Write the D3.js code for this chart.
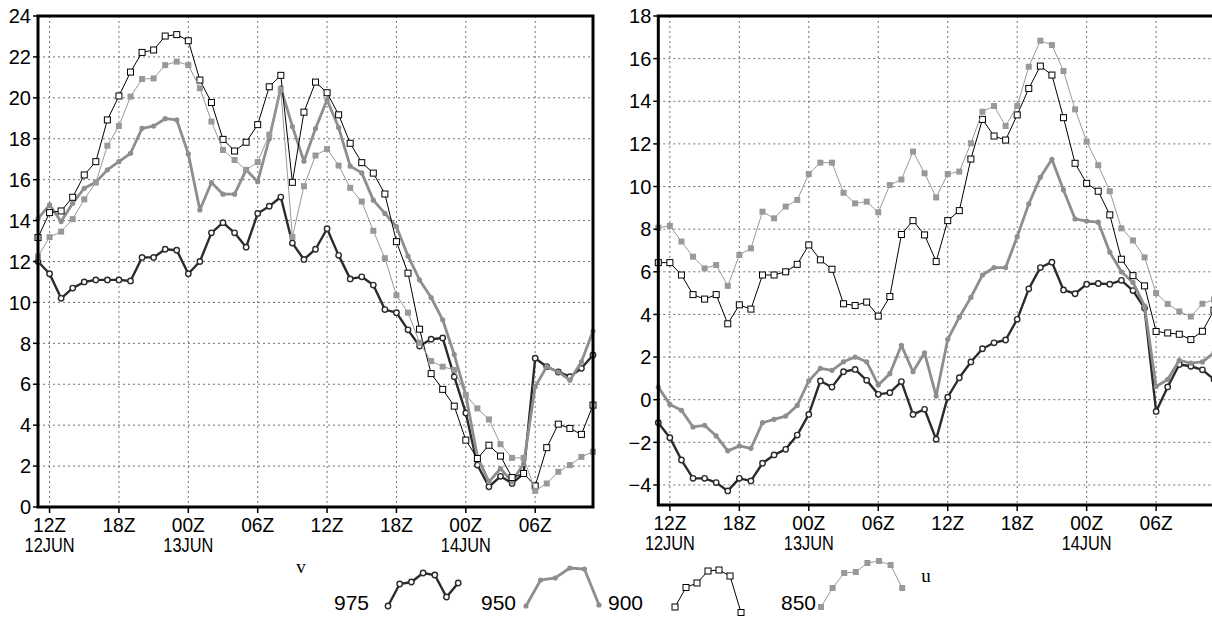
<!DOCTYPE html>
<html lang="en">
<head>
<meta charset="UTF-8">
<title>v and u at 975/950/900/850</title>
<script src="https://d3js.org/d3.v7.min.js"></script>
<style>
  body { margin: 0; background: #fff; }
  svg { display: block; }
  text { font-family: "Liberation Sans", Arial, sans-serif; fill: #000; }
</style>
</head>
<body>
<script>
const width = 1212, height = 618;

// hourly values, 11Z 12JUN .. 11Z 14JUN
const startTime = new Date(Date.UTC(2000, 5, 12, 11));
const levels = ["975", "950", "900", "850"];

const v975 = [12.0, 11.4, 10.2, 10.7, 11.0, 11.1, 11.1, 11.1, 11.05, 12.2, 12.2, 12.6, 12.55, 11.4, 12.0, 13.4, 13.9, 13.4, 12.7, 14.35, 14.7, 15.15, 12.9, 12.1,
              12.6, 13.6, 12.3, 11.15, 11.25, 10.85, 9.65, 9.5, 8.66, 7.87, 8.2, 8.26, 6.37, 4.6, 2.05, 0.99, 1.5, 1.15, 1.64, 7.27, 6.86, 6.6, 6.37, 6.78, 7.43];
const v950 = [14.1, 14.77, 13.95, 14.85, 15.58, 15.87, 16.48, 16.88, 17.29, 18.51, 18.62, 18.98, 18.92, 17.26, 14.52, 15.86, 15.29, 15.29, 16.48, 15.9, 18.0, 20.5, 18.6, 16.9,
              18.5, 19.9, 18.55, 16.66, 16.33, 15.0, 14.35, 13.7, 12.27, 11.1, 10.24, 9.15, 7.45, 5.47, 2.45, 1.23, 1.88, 1.23, 2.13, 5.88, 6.86, 6.6, 6.2, 7.1, 8.6];
const v900 = [13.17, 14.39, 14.47, 15.14, 16.23, 16.88, 18.92, 20.09, 21.26, 22.22, 22.34, 23.02, 23.09, 22.79, 20.87, 19.77, 17.97, 17.4, 17.83, 18.69, 20.54, 21.1, 15.87, 19.3,
              20.77, 20.25, 19.17, 17.78, 16.83, 16.32, 15.3, 12.97, 11.43, 8.69, 6.52, 5.75, 4.93, 3.27, 2.37, 3.02, 2.49, 1.44, 1.64, 1.03, 2.9, 4.05, 3.84, 3.55, 4.98];
const v850 = [12.24, 13.19, 13.46, 14.07, 15.04, 15.86, 17.66, 18.62, 20.06, 20.92, 20.95, 21.6, 21.77, 21.6, 20.47, 18.84, 17.45, 16.96, 16.48, 16.86, 18.2, 20.4, 13.2, 15.68,
              17.18, 17.5, 16.69, 15.6, 14.93, 13.5, 12.16, 10.35, 9.5, 8.03, 7.13, 6.86, 6.7, 5.47, 4.82, 4.28, 3.07, 2.4, 2.4, 0.79, 1.15, 1.72, 2.05, 2.45, 2.7];

const u975 = [-1.08, -1.78, -2.83, -3.69, -3.69, -3.89, -4.28, -3.69, -3.81, -2.98, -2.59, -2.33, -1.66, -0.69, 0.88, 0.59, 1.31, 1.42, 0.91, 0.25, 0.33, 0.85, -0.69, -0.45,
              -1.86, 0.12, 1.03, 1.77, 2.39, 2.67, 2.8, 3.77, 5.2, 6.2, 6.45, 5.15, 4.97, 5.42, 5.45, 5.42, 5.6, 5.12, 4.3, -0.55, 0.6, 1.65, 1.57, 1.4, 0.95];
const u950 = [0.59, -0.22, -0.5, -1.28, -1.2, -1.7, -2.4, -2.17, -2.28, -1.08, -0.92, -0.77, -0.27, 0.88, 1.47, 1.38, 1.78, 2.0, 1.78, 0.69, 1.22, 2.55, 1.31, 2.2,
              0.17, 2.83, 3.87, 4.8, 5.85, 6.2, 6.2, 7.65, 9.18, 10.43, 11.28, 9.84, 8.48, 8.38, 8.33, 6.92, 6.0, 5.5, 4.4, 0.62, 0.95, 1.85, 1.72, 1.77, 2.2];
const u900 = [6.43, 6.43, 5.85, 4.93, 4.72, 4.93, 3.56, 4.45, 4.25, 5.85, 5.85, 6.0, 6.35, 7.26, 6.56, 6.12, 4.5, 4.42, 4.58, 3.92, 4.84, 7.75, 8.4, 7.73,
              6.48, 8.4, 8.87, 11.29, 13.15, 12.37, 12.18, 13.36, 14.6, 15.65, 15.23, 13.23, 11.09, 10.15, 9.78, 8.67, 6.59, 5.82, 5.34, 3.2, 3.13, 3.07, 2.82, 3.21, 4.2];
const u850 = [8.07, 8.15, 7.42, 6.71, 6.16, 6.32, 5.34, 6.79, 7.1, 8.82, 8.51, 9.06, 9.37, 10.59, 11.12, 11.12, 9.71, 9.21, 9.29, 8.79, 10.07, 10.33, 11.64, 10.62,
              9.49, 10.59, 10.7, 12.03, 13.51, 13.78, 12.84, 13.78, 15.62, 16.84, 16.64, 15.42, 13.62, 12.11, 11.0, 9.78, 8.04, 7.47, 6.68, 5.0, 4.49, 4.14, 3.9, 4.5, 4.7];

const vTicks = [0, 2, 4, 6, 8, 10, 12, 14, 16, 18, 20, 22, 24];
const uTicks = [-4, -2, 0, 2, 4, 6, 8, 10, 12, 14, 16, 18];

// little curve pieces shown next to each level in the key (0 = low, 1 = high)
const key975 = [0.08, 0.52, 0.56, 0.74, 0.7, 0.26, 0.54];
const key950 = [0.08, 0.6, 0.64, 0.84, 0.82, 0.1];
const key900 = [0.06, 0.45, 0.54, 0.78, 0.8, 0.68, -0.05];
const key850 = [0.06, 0.44, 0.74, 0.76, 0.94, 0.98, 0.9, 0.44];

const style = {
  "975": {color: "#2b2b2b", width: 2.4, mark: "circle"},
  "950": {color: "#8e8e8e", width: 2.8, mark: "dot"},
  "900": {color: "#000000", width: 1,   mark: "square"},
  "850": {color: "#999999", width: 1,   mark: "fsquare"}
};

const svg = d3.select("body").append("svg")
    .attr("width", width).attr("height", height);

const times = v975.map((d, i) => d3.utcHour.offset(startTime, i));

function drawMarks(g, pts, lev) {
  const s = style[lev];
  if (s.mark === "circle") {
    g.selectAll("circle").data(pts).join("circle")
      .attr("cx", d => d[0]).attr("cy", d => d[1]).attr("r", 2.7)
      .style("fill", "#fff").style("stroke", s.color).style("stroke-width", 1.4);
  } else if (s.mark === "dot") {
    g.selectAll("circle").data(pts).join("circle")
      .attr("cx", d => d[0]).attr("cy", d => d[1]).attr("r", 2.6)
      .style("fill", s.color);
  } else {
    g.selectAll("rect").data(pts).join("rect")
      .attr("x", d => d[0] - 3).attr("y", d => d[1] - 3)
      .attr("width", 6).attr("height", 6)
      .style("fill", s.mark === "square" ? "#fff" : s.color)
      .style("stroke", s.mark === "square" ? "#000" : "none")
      .style("stroke-width", 1);
  }
}

function panel(p) {
  const x = d3.scaleUtc().domain([times[0], times[times.length - 1]]).range([p.x0, p.x1]);
  const y = d3.scaleLinear().domain(p.domain).range([p.y1, p.y0]);
  const g = svg.append("g");
  const xt = d3.utcHour.every(6).range(times[0], times[times.length - 1]);

  // grid
  g.append("g").selectAll("line").data(p.ticks.filter(t => t > p.domain[0] && t < p.domain[1]))
    .join("line")
      .attr("x1", p.x0).attr("x2", p.x1).attr("y1", d => y(d)).attr("y2", d => y(d))
      .style("stroke", "#707070").style("stroke-dasharray", "2,3");
  g.append("g").selectAll("line").data(xt).join("line")
      .attr("x1", d => x(d)).attr("x2", d => x(d)).attr("y1", p.y0).attr("y2", p.y1)
      .style("stroke", "#707070").style("stroke-dasharray", "2,3");

  // series
  p.series.forEach((vals, k) => {
    const lev = levels[k], s = style[lev];
    const pts = vals.map((v, i) => [x(times[i]), y(v)]);
    g.append("path").datum(pts)
      .attr("d", d3.line())
      .style("fill", "none").style("stroke", s.color)
      .style("stroke-width", s.width).style("stroke-linejoin", "round");
    drawMarks(g.append("g"), pts, lev);
  });

  // frame
  g.append("rect")
    .attr("x", p.x0).attr("y", p.y0).attr("width", p.x1 - p.x0).attr("height", p.y1 - p.y0)
    .style("fill", "none").style("stroke", "#000").style("stroke-width", 3);

  // y axis
  const ya = g.append("g").selectAll("g").data(p.ticks).join("g")
      .attr("transform", d => `translate(0,${y(d)})`);
  ya.append("line").attr("x1", p.x0 - 5).attr("x2", p.x0).style("stroke", "#000").style("stroke-width", 1.5);
  ya.append("text").attr("x", p.x0 - 7).attr("dy", "0.36em")
      .attr("text-anchor", "end").style("font-size", "20px")
      .text(d => d3.format("d")(d));

  // x axis
  const xa = g.append("g").selectAll("g").data(xt).join("g")
      .attr("transform", d => `translate(${x(d)},${p.y1})`);
  xa.append("line").attr("y1", 0).attr("y2", 6).style("stroke", "#000").style("stroke-width", 1.5);
  xa.append("text").attr("y", 25).attr("text-anchor", "middle").style("font-size", "20px")
      .attr("textLength", 33).attr("lengthAdjust", "spacingAndGlyphs")
      .text(d => d3.utcFormat("%H")(d) + "Z");
  xa.filter((d, i) => i === 0 || d.getUTCHours() === 0)
    .append("text").attr("y", 45).attr("text-anchor", "middle").style("font-size", "20px")
      .attr("textLength", 50).attr("lengthAdjust", "spacingAndGlyphs")
      .text(d => d3.utcFormat("%d%b")(d).toUpperCase());

  svg.append("text").attr("x", p.labelX).attr("y", p.labelY)
     .attr("text-anchor", "middle")
     .style("font-family", "'Liberation Serif', 'DejaVu Serif', serif").style("font-size", "19px")
     .text(p.name);
}

panel({name: "v", x0: 38, x1: 593, y0: 16, y1: 507, domain: [0, 24], ticks: vTicks,
       series: [v975, v950, v900, v850], labelX: 301, labelY: 573});
panel({name: "u", x0: 658.3, x1: 1214, y0: 16, y1: 505, domain: [-4.94, 18], ticks: uTicks,
       series: [u975, u950, u900, u850], labelX: 926, labelY: 582});

// key
const keyShapes = [key975, key950, key900, key850];
const keyLabelX = [334, 481, 608, 781];
const keySampleX = [388, 526, 675, 821];
const keyStep = [11.7, 14.6, 11, 11.6];
const ky = d3.scaleLinear().domain([0, 1]).range([610, 560]);
levels.forEach((lev, k) => {
  const s = style[lev];
  const g = svg.append("g");
  g.append("text").attr("x", keyLabelX[k]).attr("y", 610).style("font-size", "21px").text(lev);
  const kx = d3.scaleLinear().domain([0, 1]).range([keySampleX[k], keySampleX[k] + keyStep[k]]);
  const pts = keyShapes[k].map((v, i) => [kx(i), ky(v)]);
  g.append("path").datum(pts).attr("d", d3.line())
    .style("fill", "none").style("stroke", s.color).style("stroke-width", s.width);
  drawMarks(g.append("g"), pts, lev);
});
</script>
</body>
</html>
